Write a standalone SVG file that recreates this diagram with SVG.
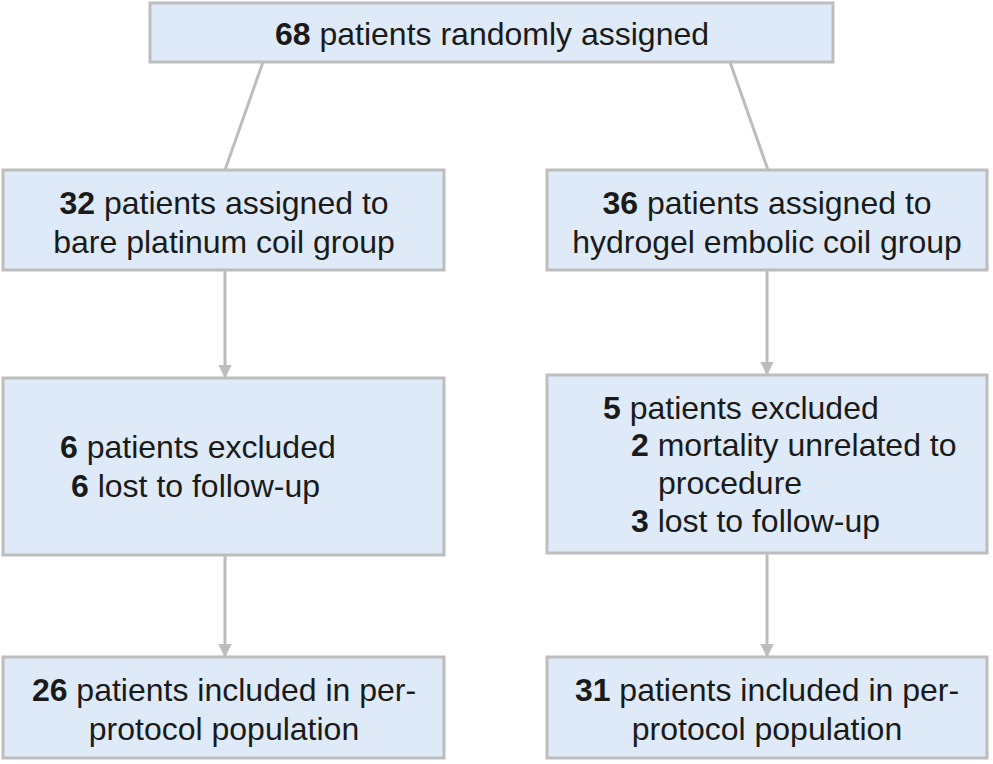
<svg xmlns="http://www.w3.org/2000/svg" width="993" height="764" viewBox="0 0 993 764">
<style>
.b{fill:#deeaf7;stroke:#bdbdbd;stroke-width:3}
text{font-family:"Liberation Sans",Arial,sans-serif;font-size:32px;fill:#1a1a1a}
.m{text-anchor:middle}
.k{font-weight:bold}
.c{stroke:#bdbdbd;stroke-width:3;fill:none}
</style>
<defs><marker id="a" viewBox="0 0 10 10" refX="9" refY="5" markerWidth="4.5" markerHeight="4.5" orient="auto" markerUnits="strokeWidth"><path d="M0,0L10,5L0,10z" fill="#bdbdbd"/></marker></defs>
<rect width="993" height="764" fill="#fff"/>
<g id="connectors">
<path class="c" d="M263,62L225,170"/>
<path class="c" d="M730,62L768,170"/>
<path class="c" d="M225,270V377" marker-end="url(#a)"/>
<path class="c" d="M225,555V656" marker-end="url(#a)"/>
<path class="c" d="M767,270V374" marker-end="url(#a)"/>
<path class="c" d="M767,553V656" marker-end="url(#a)"/>
</g>
<g id="n0"><rect class="b" x="150" y="3" width="683" height="59"/><text class="m" x="492" y="45"><tspan class="k">68</tspan> patients randomly assigned</text></g>
<g id="n1"><rect class="b" x="3" y="170" width="441" height="100"/><text class="m" x="224" y="214"><tspan class="k">32</tspan> patients assigned to</text><text class="m" x="224" y="253">bare platinum coil group</text></g>
<g id="n2"><rect class="b" x="547" y="170" width="440" height="100"/><text class="m" x="767" y="214"><tspan class="k">36</tspan> patients assigned to</text><text class="m" x="767" y="253">hydrogel embolic coil group</text></g>
<g id="n3"><rect class="b" x="3" y="378" width="441" height="177"/><text x="60" y="458"><tspan class="k">6</tspan> patients excluded</text><text x="71" y="497"><tspan class="k">6</tspan> lost to follow-up</text></g>
<g id="n4"><rect class="b" x="547" y="375" width="440" height="178"/><text x="603" y="419"><tspan class="k">5</tspan> patients excluded</text><text x="631" y="456"><tspan class="k">2</tspan> mortality unrelated to</text><text x="658" y="494">procedure</text><text x="631" y="532"><tspan class="k">3</tspan> lost to follow-up</text></g>
<g id="n5"><rect class="b" x="3" y="657" width="441" height="101"/><text class="m" x="224" y="701"><tspan class="k">26</tspan> patients included in per-</text><text class="m" x="224" y="740">protocol population</text></g>
<g id="n6"><rect class="b" x="547" y="657" width="440" height="101"/><text class="m" x="767" y="701"><tspan class="k">31</tspan> patients included in per-</text><text class="m" x="767" y="740">protocol population</text></g>
</svg>
